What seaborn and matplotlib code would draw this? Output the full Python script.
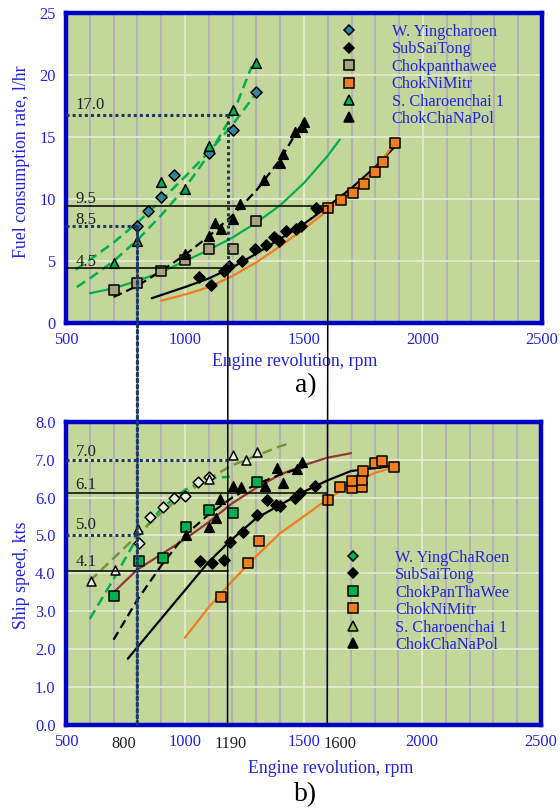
import numpy as np
import pandas as pd
import matplotlib
matplotlib.use("Agg")
import matplotlib.pyplot as plt
import seaborn as sns
from matplotlib.lines import Line2D
from matplotlib.patches import ConnectionPatch
from matplotlib.ticker import MultipleLocator

# ---------------- a) fuel consumption data ----------------
a_ying_rpm = [800, 846, 900, 954, 1100, 1200, 1300]
a_ying_fuel = [7.8, 9.0, 10.2, 11.9, 13.7, 15.6, 18.6]
a_sub_rpm = [1060, 1110, 1165, 1185, 1240, 1295, 1340, 1375, 1395, 1425, 1465, 1485, 1550]
a_sub_fuel = [3.75, 3.1, 4.2, 4.6, 5.0, 5.95, 6.3, 6.9, 6.65, 7.4, 7.6, 7.8, 9.25]
a_pan_rpm = [700, 800, 900, 1000, 1100, 1200, 1300]
a_pan_fuel = [2.7, 3.2, 4.2, 5.1, 6.0, 6.0, 8.2]
a_ni_rpm = [1600, 1655, 1705, 1750, 1800, 1830, 1880]
a_ni_fuel = [9.3, 9.9, 10.5, 11.2, 12.2, 13.0, 14.5]
a_char_rpm = [700, 800, 900, 1000, 1100, 1200, 1300]
a_char_fuel = [4.8, 6.6, 11.4, 10.8, 14.3, 17.2, 21.0]
a_cha_rpm = [1000, 1100, 1125, 1150, 1200, 1230, 1330, 1400, 1410, 1460, 1490, 1500]
a_cha_fuel = [5.6, 7.0, 8.1, 7.6, 8.4, 9.6, 11.5, 12.9, 13.6, 15.4, 15.8, 16.2]

# trend lines
a_ying_fit_rpm = [540, 600, 700, 800, 900, 1000, 1100, 1200, 1290]
a_ying_fit = [4.3, 5.1, 6.5, 8.1, 9.9, 11.8, 13.8, 16.0, 18.3]
a_char_fit_rpm = [545, 600, 700, 800, 900, 1000, 1100, 1200, 1280]
a_char_fit = [2.9, 3.6, 5.0, 6.7, 8.7, 10.9, 13.6, 16.8, 20.7]
a_pan_fit_rpm = [600, 700, 800, 900, 1000, 1100, 1200, 1300, 1400, 1500, 1600, 1650]
a_pan_fit = [2.4, 2.8, 3.4, 4.1, 5.0, 5.9, 6.9, 8.1, 9.5, 11.3, 13.5, 14.8]
a_cha_fit_rpm = [700, 800, 900, 1000, 1100, 1200, 1300, 1400, 1500]
a_cha_fit = [2.1, 3.0, 4.2, 5.5, 7.0, 8.7, 10.7, 13.2, 16.4]
a_sub_fit_rpm = [860, 1000, 1100, 1200, 1300, 1400, 1500, 1600, 1700, 1800, 1880]
a_sub_fit = [2.0, 2.9, 3.6, 4.5, 5.6, 6.8, 8.0, 9.4, 10.9, 12.6, 14.2]
a_ni_fit_rpm = [900, 1000, 1100, 1200, 1300, 1400, 1500, 1600, 1700, 1800, 1880]
a_ni_fit = [1.8, 2.3, 2.9, 3.8, 4.9, 6.2, 7.6, 9.1, 10.6, 12.4, 14.5]

# ---------------- b) ship speed data ----------------
b_ying_rpm = [808, 854, 908, 955, 1001, 1056, 1102]
b_ying_kts = [4.8, 5.5, 5.75, 6.0, 6.05, 6.4, 6.55]
b_sub_rpm = [1064, 1114, 1166, 1190, 1247, 1304, 1345, 1384, 1401, 1464, 1485, 1548]
b_sub_kts = [4.33, 4.27, 4.35, 4.83, 5.09, 5.54, 5.94, 5.8, 5.78, 6.0, 6.12, 6.3]
b_pan_rpm = [700, 808, 908, 1005, 1102, 1203, 1304]
b_pan_kts = [3.4, 4.33, 4.4, 5.22, 5.67, 5.6, 6.41]
b_ni_rpm = [1152, 1266, 1313, 1603, 1653, 1703, 1703, 1746, 1746, 1751, 1801, 1830, 1881]
b_ni_kts = [3.37, 4.27, 4.85, 5.94, 6.28, 6.25, 6.44, 6.28, 6.46, 6.7, 6.9, 6.97, 6.8]
b_char_rpm = [605, 706, 803, 1102, 1203, 1258, 1304]
b_char_kts = [3.8, 4.1, 5.17, 6.5, 7.12, 7.0, 7.2]
b_cha_rpm = [1005, 1102, 1131, 1150, 1203, 1235, 1336, 1390, 1414, 1473, 1494]
b_cha_kts = [5.0, 5.22, 5.46, 5.96, 6.3, 6.28, 6.3, 6.78, 6.38, 6.75, 6.94]

b_ying_fit_rpm = [600, 700, 800, 900, 1000, 1100, 1190]
b_ying_fit = [2.8, 3.85, 4.95, 5.7, 6.2, 6.5, 6.55]
b_char_fit_rpm = [600, 700, 800, 900, 1000, 1100, 1200, 1300, 1400, 1450]
b_char_fit = [3.8, 4.4, 5.0, 5.6, 6.1, 6.5, 6.85, 7.1, 7.35, 7.45]
b_pan_fit_rpm = [700, 800, 900, 1000, 1100, 1200, 1300, 1400, 1500, 1600, 1700]
b_pan_fit = [3.5, 4.1, 4.5, 4.9, 5.35, 5.85, 6.25, 6.6, 6.85, 7.05, 7.17]
b_cha_fit_rpm = [700, 800, 900, 1000, 1100, 1200, 1300, 1400, 1500]
b_cha_fit = [2.25, 3.3, 4.2, 5.0, 5.55, 6.0, 6.35, 6.6, 6.8]
b_sub_fit_rpm = [760, 900, 1000, 1100, 1190, 1300, 1400, 1500, 1600, 1700, 1860]
b_sub_fit = [1.75, 2.8, 3.55, 4.3, 4.85, 5.45, 5.8, 6.15, 6.45, 6.7, 6.82]
b_ni_fit_rpm = [1000, 1100, 1200, 1300, 1400, 1500, 1600, 1700, 1800, 1880]
b_ni_fit = [2.3, 3.1, 3.8, 4.45, 5.05, 5.5, 5.95, 6.35, 6.65, 6.8]

# reading guides: (value, rpm where it stops)
a_dotted = [(16.8, 1180), (7.8, 800)]
a_solid = [(9.45, 1600), (4.4, 1180)]
b_dotted = [(7.0, 1180), (5.0, 800)]
b_solid = [(6.12, 1600), (4.06, 1180)]
a_marks = [("17.0", 17.6), ("9.5", 10.0), ("8.5", 8.3), ("4.5", 4.9)]
b_marks = [("7.0", 7.2), ("6.1", 6.33), ("5.0", 5.28), ("4.1", 4.3)]
extra_ticks = [("800", 742), ("1190", 1194), ("1600", 1652)]

labels_a = ["W. Yingcharoen", "SubSaiTong", "Chokpanthawee", "ChokNiMitr",
            "S. Charoenchai 1", "ChokChaNaPol"]
labels_b = ["W. YingChaRoen", "SubSaiTong", "ChokPanThaWee", "ChokNiMitr",
            "S. Charoenchai 1", "ChokChaNaPol"]

# colours
BG = "#c4d79b"
FRAME = "#0000c8"
TXT = "#2222e0"
GREEN = "#00b050"
ORANGE = "#f07d1e"
BROWN = "#953735"
OLIVE = "#77933c"
NAVY = "#1f3864"

sns.set_style("white")
plt.rcParams["font.family"] = ["Liberation Serif", "DejaVu Serif"]

fig = plt.figure(figsize=(5.6, 8.11), dpi=100)
ax1 = fig.add_axes([0.118, 0.6017, 0.850, 0.3823])
ax2 = fig.add_axes([0.118, 0.106, 0.848, 0.374])


def style_axes(ax, ymax, ystep, fmt):
    ax.set_facecolor(BG)
    ax.set_xlim(500, 2500)
    ax.set_ylim(0, ymax)
    ax.set_xticks(np.arange(500, 2501, 500))
    ax.xaxis.set_minor_locator(MultipleLocator(100))
    ax.set_yticks(np.arange(0, ymax + 0.01, ystep))
    ax.set_yticklabels([fmt.format(v) for v in np.arange(0, ymax + 0.01, ystep)])
    ax.set_axisbelow(True)
    ax.grid(which="major", color="#e4ebd0", lw=1.3)
    ax.grid(which="minor", axis="x", color="#b2b2b2", lw=1.5)
    for s in ax.spines.values():
        s.set_color(FRAME)
        s.set_linewidth(3.2)
    ax.tick_params(axis="x", which="major", direction="inout", length=7, width=2.6,
                   color=FRAME, labelcolor=TXT, labelsize=11.8, pad=3)
    ax.tick_params(axis="x", which="minor", length=0)
    ax.tick_params(axis="y", direction="out", length=3.5, width=1.5, color="#909090",
                   labelcolor=TXT, labelsize=11.8, pad=4)


def curve(ax, x, y, color, ls="-", lw=1.6):
    sns.lineplot(x=x, y=y, ax=ax, color=color, lw=lw, linestyle=ls,
                 sort=False, estimator=None, zorder=3)


def points(ax, x, y, marker, face, s):
    sns.scatterplot(x=x, y=y, ax=ax, marker=marker, color=face, edgecolor="black",
                    linewidth=1.1, s=s, zorder=4)


DASH = (0, (4, 2.2))

# ---------- panel a ----------
style_axes(ax1, 25, 5, "{:.0f}")
curve(ax1, a_ying_fit_rpm, a_ying_fit, GREEN, DASH, 1.8)
curve(ax1, a_char_fit_rpm, a_char_fit, GREEN, DASH, 1.8)
curve(ax1, a_pan_fit_rpm, a_pan_fit, GREEN)
curve(ax1, a_cha_fit_rpm, a_cha_fit, "black", DASH, 1.6)
curve(ax1, a_sub_fit_rpm, a_sub_fit, "black")
curve(ax1, a_ni_fit_rpm, a_ni_fit, ORANGE)

for v, end in a_dotted:
    ax1.plot([500, end], [v, v], color=NAVY, lw=2.2, ls=(0, (1, 1)), zorder=5)
for v, end in a_solid:
    ax1.plot([500, end], [v, v], color="black", lw=1.1, zorder=5)
ax1.plot([a_dotted[0][1]] * 2, [a_dotted[0][0], a_solid[1][0]], color=NAVY, lw=2.2,
         ls=(0, (1, 1)), zorder=5)

points(ax1, a_ying_rpm, a_ying_fuel, "D", "#31859c", 32)
points(ax1, a_sub_rpm, a_sub_fuel, "D", "black", 32)
points(ax1, a_pan_rpm, a_pan_fuel, "s", "#a8a482", 48)
points(ax1, a_ni_rpm, a_ni_fuel, "s", ORANGE, 48)
points(ax1, a_char_rpm, a_char_fuel, "^", GREEN, 48)
points(ax1, a_cha_rpm, a_cha_fuel, "^", "black", 48)

for t, v in a_marks:
    ax1.text(540, v, t, fontsize=12, color="#202020", va="center", ha="left", zorder=6)

ax1.set_xlabel("Engine revolution, rpm", color=TXT, fontsize=12.8)
ax1.set_ylabel("Fuel consumption rate, l/hr", color=TXT, fontsize=12.8)
ax1.xaxis.set_label_coords(0.481, -0.098)
ax1.yaxis.set_label_coords(-0.076, 0.52)

# ---------- panel b ----------
style_axes(ax2, 8, 1, "{:.1f}")
curve(ax2, b_ying_fit_rpm, b_ying_fit, GREEN, DASH, 1.8)
curve(ax2, b_char_fit_rpm, b_char_fit, OLIVE, DASH, 1.8)
curve(ax2, b_pan_fit_rpm, b_pan_fit, BROWN)
curve(ax2, b_cha_fit_rpm, b_cha_fit, "black", DASH, 1.6)
curve(ax2, b_sub_fit_rpm, b_sub_fit, "black")
curve(ax2, b_ni_fit_rpm, b_ni_fit, ORANGE)

for v, end in b_dotted:
    ax2.plot([500, end], [v, v], color=NAVY, lw=2.2, ls=(0, (1, 1)), zorder=5)
for v, end in b_solid:
    ax2.plot([500, end], [v, v], color="black", lw=1.1, zorder=5)

points(ax2, b_ying_rpm, b_ying_kts, "D", "#e8f2dc", 30)
points(ax2, b_sub_rpm, b_sub_kts, "D", "black", 32)
points(ax2, b_pan_rpm, b_pan_kts, "s", GREEN, 48)
points(ax2, b_ni_rpm, b_ni_kts, "s", ORANGE, 48)
points(ax2, b_char_rpm, b_char_kts, "^", "#eef3e0", 42)
points(ax2, b_cha_rpm, b_cha_kts, "^", "black", 48)

for t, v in b_marks:
    ax2.text(540, v, t, fontsize=12, color="#202020", va="center", ha="left", zorder=6)

for t, r in extra_ticks:
    ax2.text(r, -0.035, t, transform=ax2.get_xaxis_transform(), fontsize=11.8,
             color="#202020", ha="center", va="top")

ax2.set_xlabel("Engine revolution, rpm", color=TXT, fontsize=12.8)
ax2.set_ylabel("Ship speed, kts", color=TXT, fontsize=12.8)
ax2.xaxis.set_label_coords(0.558, -0.115)
ax2.yaxis.set_label_coords(-0.076, 0.495)

# guide lines running through both panels
for rpm, top, style in [(1180, a_solid[1][0], "solid"), (1600, a_solid[0][0], "solid"),
                        (800, a_dotted[1][0], "dotted")]:
    if style == "solid":
        kw = dict(color="black", lw=1.1)
    else:
        kw = dict(color=NAVY, lw=2.2, linestyle=(0, (1, 1)))
    con = ConnectionPatch(xyA=(rpm, top), coordsA=ax1.transData,
                          xyB=(rpm, 0), coordsB=ax2.transData, zorder=5, **kw)
    fig.add_artist(con)

# legends
def handles(faces, edge="black"):
    mk = ["D", "D", "s", "s", "^", "^"]
    ms = [5.5, 5.5, 6.5, 6.5, 7, 7]
    return [Line2D([], [], ls="none", marker=m, markersize=z, markerfacecolor=f,
                   markeredgecolor=edge, markeredgewidth=1.1)
            for m, z, f in zip(mk, ms, faces)]

h1 = handles(["#31859c", "black", "#a8a482", ORANGE, GREEN, "black"])
h2 = handles([GREEN, "black", GREEN, ORANGE, "#9bbb59", "black"])
for ax, h, lab, anchor in [(ax1, h1, labels_a, (0.577, 0.965)),
                           (ax2, h2, labels_b, (0.586, 0.578))]:
    leg = ax.legend(h, lab, loc="upper left", bbox_to_anchor=anchor, frameon=False,
                    fontsize=11.8, labelcolor=TXT, handlelength=1.0, handletextpad=2.1,
                    labelspacing=0.09, borderpad=0, borderaxespad=0)
    leg.set_zorder(7)

fig.text(0.546, 0.525, "a)", fontsize=20, ha="center", va="center", color="black")
fig.text(0.545, 0.02, "b)", fontsize=20, ha="center", va="center", color="black")

fig.savefig("out.png", dpi=100)
